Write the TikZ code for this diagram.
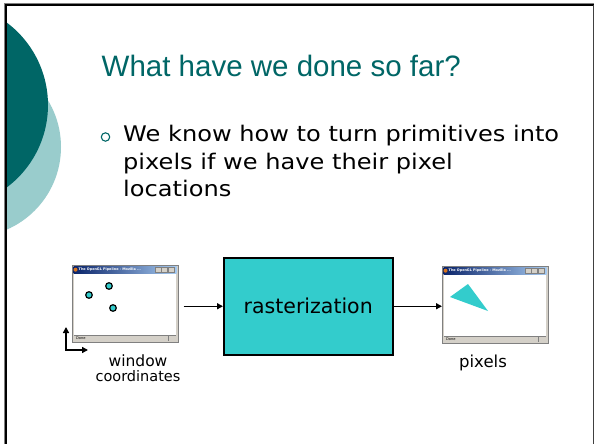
\documentclass[tikz,border=0pt]{standalone}
\usepackage{fontspec}
\setmainfont{DejaVu Sans}
\newfontfamily\titlefont{Liberation Sans}
\newfontfamily\bodyfont[FakeStretch=1.12]{DejaVu Sans}
\usetikzlibrary{arrows.meta}
\definecolor{tealdark}{HTML}{006666}
\definecolor{teallight}{HTML}{99CCCC}
\definecolor{cyanfill}{HTML}{33CCCC}
\definecolor{winframe}{HTML}{D4D0C8}
\definecolor{tbdark}{HTML}{0A246A}
\definecolor{tblight}{HTML}{A6CAF0}
\definecolor{winedge}{HTML}{808080}
\definecolor{iconorange}{HTML}{D8731C}
\begin{document}
\begin{tikzpicture}[x=1pt,y=-1pt,
  winbox/.style={draw=winedge, line width=0.6pt, fill=winframe, minimum width=106pt, minimum height=77pt, inner sep=0pt, anchor=north west},
  tinytext/.style={inner sep=0pt, anchor=west, font=\fontsize{3.6}{4}\selectfont},
  conn/.style={line width=1.4pt, -{Triangle[length=6pt,width=6pt]}},
  dotstyle/.style={fill=cyanfill, draw=black, line width=1.2pt},
  bodytext/.style={inner sep=0pt, anchor=base west, font=\bodyfont\fontsize{21.5}{27.5}\selectfont},
  labeltext/.style={inner sep=0pt, font=\fontsize{15.5}{15}\selectfont}
]
\useasboundingbox (0,0) rectangle (594,444);
\fill[white] (0,0) rectangle (594,444);
% decorative circles
\begin{scope}
  \clip (6,5) rectangle (594,444);
  \fill[teallight] (-29,147) circle (90pt);
  \fill[tealdark] (-55,105) circle (103pt);
\end{scope}
% slide border
\draw[winedge, line width=1pt] (4.5,444) -- (4.5,3.8) -- (594,3.8);
\draw[black, line width=2pt] (6,444) -- (6,5.2) -- (594,5.2);
\draw[black!75, line width=1pt] (593,5) -- (593,444);
% title
\node[anchor=base west, inner sep=0pt, font=\titlefont\fontsize{29.5}{34}\selectfont, text=tealdark] (title) at (101.5,76.7) {What have we done so far?};
% bullet
\draw[tealdark, line width=1.1pt] (105.5,137) circle (4.2pt);
\node[bodytext] (b1) at (123,141.7) {We know how to turn primitives into};
\node[bodytext] (b2) at (123,169.2) {pixels if we have their pixel};
\node[bodytext] (b3) at (123,196.7) {locations};
% left window
\begin{scope}[shift={(72,265)}]
  \node[winbox] (win1) at (0,0) {};
  \fill[left color=tbdark, right color=tblight] (1.5,1.5) rectangle (104.5,8);
  \fill[iconorange] (3.5,4.7) circle (2pt);
  \node[tinytext, text=white, font=\fontsize{3.4}{4}\selectfont\bfseries] (t1) at (6.5,4.7) {The OpenGL Pipeline - Mozilla ...};
  \foreach \bx in {83,89.5,96.5} {\fill[winframe] (\bx,2.5) rectangle ++(6,5); \draw[winedge, line width=0.3pt] (\bx,2.5) rectangle ++(6,5);}
  \fill[white] (2,8.5) rectangle (104,69.5);
  \draw[winedge, line width=0.4pt] (2,70) -- (104,70);
  \node[tinytext, text=black] (d1) at (4,72.8) {Done};
  \draw[winedge, line width=0.3pt] (96,70) -- (96,75.5);
\end{scope}
\draw[dotstyle] (89,295) circle (3.3pt);
\draw[dotstyle] (109,286) circle (3.3pt);
\draw[dotstyle] (113,308) circle (3.3pt);
% axes
\coordinate (axy) at (66,327);
\coordinate (axx) at (88,350);
\draw[line width=1.4pt, {Triangle[length=6pt,width=6pt]}-{Triangle[length=6pt,width=6pt]}] (axy) |- (axx);
\node[labeltext, anchor=base] (lab1) at (138,366.7) {window};
\node[labeltext, anchor=base, font=\fontsize{14.5}{15}\selectfont] (lab2) at (138,381.5) {coordinates};
% rasterization box
\node[draw=black, line width=1.5pt, fill=cyanfill, minimum width=169pt, minimum height=97pt, anchor=north west, font=\fontsize{20.5}{24}\selectfont] (rast) at (223,257) {rasterization};
% right window
\begin{scope}[shift={(442,266)}]
  \node[winbox] (win2) at (0,0) {};
  \fill[left color=tbdark, right color=tblight] (1.5,1.5) rectangle (104.5,8);
  \fill[iconorange] (3.5,4.7) circle (2pt);
  \node[tinytext, text=white, font=\fontsize{3.4}{4}\selectfont\bfseries] (t2) at (6.5,4.7) {The OpenGL Pipeline - Mozilla ...};
  \foreach \bx in {83,89.5,96.5} {\fill[winframe] (\bx,2.5) rectangle ++(6,5); \draw[winedge, line width=0.3pt] (\bx,2.5) rectangle ++(6,5);}
  \fill[white] (2,8.5) rectangle (104,69.5);
  \draw[winedge, line width=0.4pt] (2,70) -- (104,70);
  \node[tinytext, text=black] (d2) at (4,72.8) {Done};
  \draw[winedge, line width=0.3pt] (96,70) -- (96,75.5);
\end{scope}
\fill[cyanfill] (450,297) -- (468,284) -- (488,311) -- cycle;
\node[labeltext, anchor=base, font=\fontsize{16.5}{18}\selectfont] (lab3) at (483,367) {pixels};
% connectors
\draw[conn] ([xshift=5pt]win1.east |- rast.west) -- (rast.west);
\draw[conn] (rast.east) -- (rast.east -| win2.west);
\end{tikzpicture}
\end{document}
